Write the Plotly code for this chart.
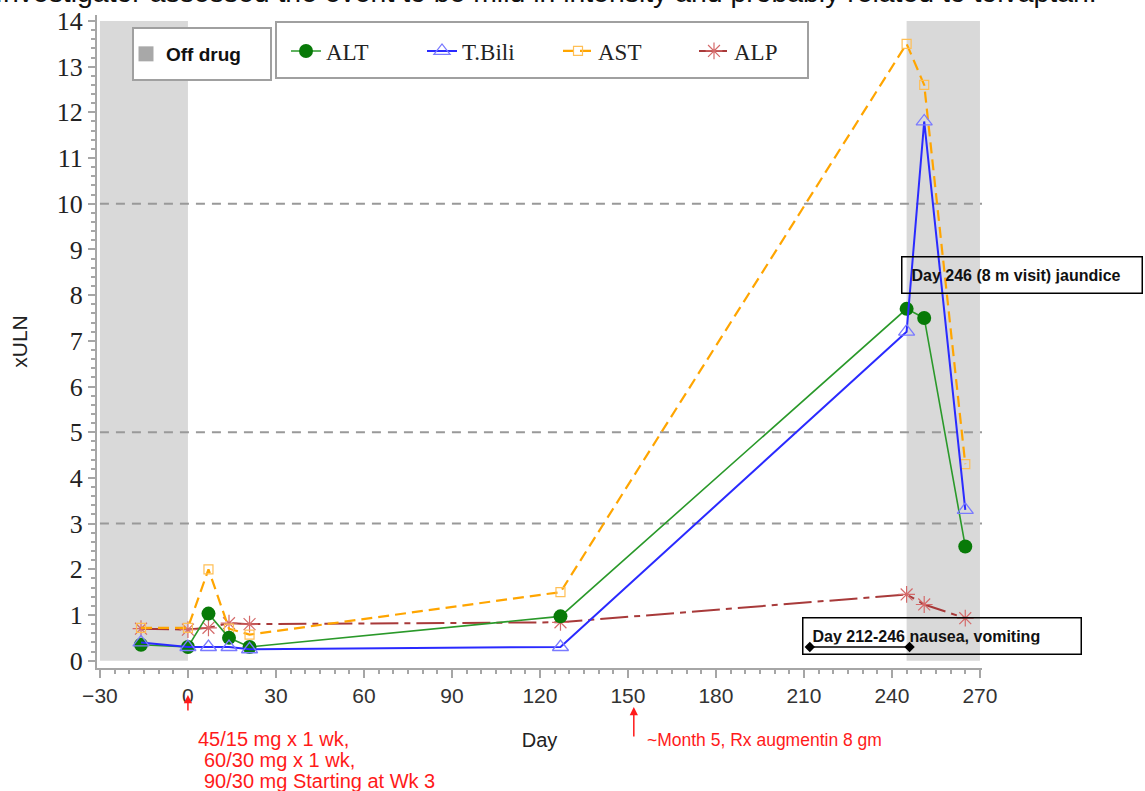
import plotly.graph_objects as go

# Liver test results (multiples of upper limit of normal) by study day
days = [-16, 0, 7, 14, 21, 127, 245, 251, 265]
alt = [0.35, 0.3, 1.03, 0.5, 0.3, 0.97, 7.7, 7.5, 2.5]
tbili = [0.4, 0.3, 0.3, 0.3, 0.25, 0.3, 7.2, 11.8, 3.3]
ast = [0.72, 0.72, 2.0, 0.7, 0.57, 1.5, 13.5, 12.6, 4.3]
alp = [0.7, 0.68, 0.72, 0.82, 0.8, 0.84, 1.45, 1.23, 0.93]

# Off-drug periods (start, end day)
off_drug_start = [-30, 245]
off_drug_end = [0, 270]

# Reference levels (xULN)
ref_levels = [3, 5, 10]

# Nausea / vomiting episode
nausea_days = [212, 246]
nausea_level = [0.3, 0.3]

# Events marked below the axis
dose_day = 0
augmentin_day = 152

x_ticks = [-30, 0, 30, 60, 90, 120, 150, 180, 210, 240, 270]
y_ticks = [0, 1, 2, 3, 4, 5, 6, 7, 8, 9, 10, 11, 12, 13, 14]

SANS = "Liberation Sans, Arial, sans-serif"
SERIF = "Liberation Serif, Times New Roman, serif"

# plot-area geometry in pixels (for paper-coordinate placement)
W, H = 1145, 791
ML, MR, MT, MB = 97, 163, 15, 123
PW, PH = W - ML - MR, H - MT - MB


def px(xp):
    return (xp - ML) / PW


def py(yp):
    return (H - MB - yp) / PH


fig = go.Figure()

# ALP
fig.add_trace(go.Scatter(
    x=days, y=alp, mode="lines+markers", name="ALP",
    line=dict(color="#a83a3a", width=2, dash="28px,6px,6px,6px"),
    marker=dict(symbol="asterisk-open", size=14, color="#d46a6a",
                line=dict(width=1.2, color="#d46a6a")),
    legend="legend2", legendrank=4))

# AST
fig.add_trace(go.Scatter(
    x=days, y=ast, mode="lines+markers", name="AST",
    line=dict(color="#ffa500", width=2.2, dash="11px,6px"),
    marker=dict(symbol="square-open", size=9, color="#ffbf55",
                line=dict(width=1.2, color="#ffbf55")),
    legend="legend2", legendrank=3))

# ALT
fig.add_trace(go.Scatter(
    x=days, y=alt, mode="lines+markers", name="ALT",
    line=dict(color="#2a992a", width=1.6),
    marker=dict(symbol="circle", size=14, color="#087a08"),
    legend="legend2", legendrank=1))

# Total bilirubin
fig.add_trace(go.Scatter(
    x=days, y=tbili, mode="lines+markers", name="T.Bili",
    line=dict(color="#2a2aff", width=2),
    marker=dict(symbol="triangle-up-open", size=14, color="#7a7aff",
                line=dict(width=1.3, color="#7a7aff")),
    legend="legend2", legendrank=2))

# Nausea / vomiting interval
fig.add_trace(go.Scatter(
    x=nausea_days, y=nausea_level, mode="lines+markers",
    line=dict(color="black", width=1.5),
    marker=dict(symbol="diamond", size=8, color="black"),
    showlegend=False, hoverinfo="skip"))

# Off-drug legend entry
fig.add_trace(go.Scatter(
    x=[None], y=[None], mode="markers", name="<b>Off drug</b>",
    marker=dict(symbol="square", size=15, color="#a8a8a8"),
    legend="legend"))

shapes = []
for s, e in zip(off_drug_start, off_drug_end):
    shapes.append(dict(type="rect", xref="x", yref="y", x0=s, x1=e, y0=0, y1=14,
                       fillcolor="#d9d9d9", line=dict(width=0), layer="below"))
for lv in ref_levels:
    shapes.append(dict(type="line", xref="x", yref="y", x0=-30, x1=271, y0=lv, y1=lv,
                       line=dict(color="#999999", width=2, dash="9px,7px"), layer="below"))
# legend frames (no series pass through this top strip)
shapes.append(dict(type="rect", xref="paper", yref="paper",
                   x0=px(133), x1=px(271), y0=py(80), y1=py(28),
                   fillcolor="white", line=dict(color="#a0a0a0", width=2), layer="above"))
shapes.append(dict(type="rect", xref="paper", yref="paper",
                   x0=px(276), x1=px(808), y0=py(78), y1=py(22),
                   fillcolor="white", line=dict(color="#a0a0a0", width=2), layer="above"))

RED = "#ff1a1a"
annotations = [
    dict(text="Investigator assessed the event to be mild in intensity and probably related to tolvaptan.",
         xref="paper", yref="paper", x=px(-7), y=py(-8), xanchor="left", yanchor="middle",
         showarrow=False, font=dict(family=SANS, size=28.4, color="#111")),
    dict(text="<b>Day 246 (8 m visit) jaundice</b>", xref="paper", yref="paper",
         x=px(901), y=py(274.5), xanchor="left", yanchor="middle", align="left", width=221,
         showarrow=False, bordercolor="black", borderwidth=1.5, borderpad=9,
         font=dict(family=SANS, size=16, color="#111")),
    dict(text="<b>Day 212-246 nausea, vomiting</b>", xref="paper", yref="paper",
         x=px(802), y=py(635.5), xanchor="left", yanchor="middle", align="left", width=259,
         showarrow=False, bordercolor="black", borderwidth=1.5, borderpad=9,
         font=dict(family=SANS, size=16, color="#111")),
    dict(text="", xref="x", yref="paper", x=dose_day, y=py(695), ax=0, ay=17,
         showarrow=True, arrowhead=2, arrowsize=1.1, arrowwidth=1.5, arrowcolor=RED, standoff=0),
    dict(text="", xref="x", yref="paper", x=augmentin_day, y=py(707), ax=0, ay=31,
         showarrow=True, arrowhead=2, arrowsize=1.1, arrowwidth=1.5, arrowcolor=RED, standoff=0),
    dict(text="45/15 mg x 1 wk,", xref="paper", yref="paper", x=px(196), y=py(739),
         xanchor="left", yanchor="middle", showarrow=False, font=dict(family=SANS, size=20, color=RED)),
    dict(text="60/30 mg x 1 wk,", xref="paper", yref="paper", x=px(202), y=py(760),
         xanchor="left", yanchor="middle", showarrow=False, font=dict(family=SANS, size=20, color=RED)),
    dict(text="90/30 mg Starting at Wk 3", xref="paper", yref="paper", x=px(202), y=py(781),
         xanchor="left", yanchor="middle", showarrow=False, font=dict(family=SANS, size=20, color=RED)),
    dict(text="~Month 5, Rx augmentin 8 gm", xref="paper", yref="paper", x=px(645), y=py(740),
         xanchor="left", yanchor="middle", showarrow=False, font=dict(family=SANS, size=17.5, color=RED)),
]

fig.update_layout(
    width=W, height=H,
    margin=dict(l=ML, r=MR, t=MT, b=MB, pad=0, autoexpand=False),
    paper_bgcolor="white", plot_bgcolor="white",
    shapes=shapes, annotations=annotations,
    legend=dict(x=px(126), y=py(54), xanchor="left", yanchor="middle",
                bgcolor="rgba(0,0,0,0)", borderwidth=0,
                font=dict(family=SANS, size=19, color="#111")),
    legend2=dict(orientation="h", x=px(286), y=py(51), xanchor="left", yanchor="middle",
                 entrywidth=91, entrywidthmode="pixels", traceorder="normal",
                 bgcolor="rgba(0,0,0,0)", borderwidth=0,
                 font=dict(family=SERIF, size=23, color="#222")),
    xaxis=dict(range=[-31, 270.7], tickvals=x_ticks, showline=True, linecolor="#a6a6a6",
               linewidth=2, ticks="outside", ticklen=8, tickwidth=1.5, tickcolor="#a6a6a6",
               minor=dict(dtick=5, tick0=0, ticks="outside", ticklen=4, tickcolor="#a6a6a6"),
               showgrid=False, zeroline=False, automargin=False,
               tickfont=dict(family=SANS, size=21, color="#333"),
               title=dict(text="Day", font=dict(family=SANS, size=20, color="#222"), standoff=27)),
    yaxis=dict(range=[-0.16, 14.13], tickvals=y_ticks, showline=True, linecolor="#a6a6a6",
               linewidth=2, ticks="outside", ticklen=7, tickwidth=1.5, tickcolor="#a6a6a6",
               minor=dict(dtick=0.2, tick0=0, ticks="outside", ticklen=4, tickcolor="#a6a6a6"),
               showgrid=False, zeroline=False, automargin=False,
               tickfont=dict(family=SERIF, size=26, color="#222"),
               title=dict(text="xULN", font=dict(family=SANS, size=21, color="#222"), standoff=23)),
    showlegend=True,
)

fig.write_html("out.html")
